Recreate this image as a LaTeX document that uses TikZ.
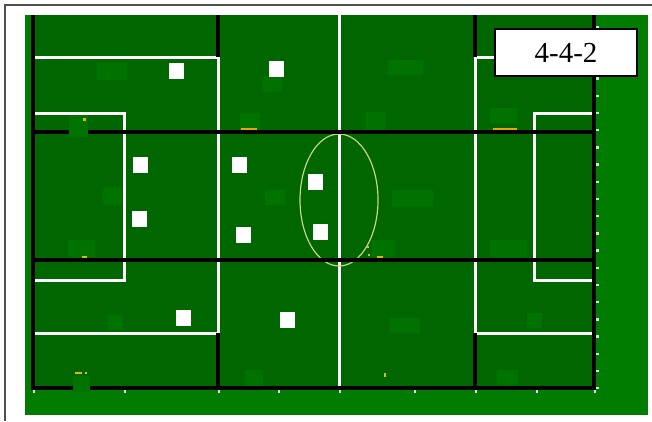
\documentclass[tikz,border=0pt]{standalone}
\usepackage{fontspec}
\setmainfont{Liberation Serif}
\begin{document}
\begin{tikzpicture}[x=1pt,y=-1pt,
  blackline/.style={black,line width=3.3pt},
  whiteline/.style={white,line width=3pt},
  patch/.style={fill=patchgreen},
  player/.style={fill=white,draw=none,minimum width=15pt,minimum height=16pt,inner sep=0pt},
  tickmark/.style={fill=tickcol},
  yellowmark/.style={fill=markyellow},
  labelbox/.style={draw=black,line width=1.5pt,fill=white,minimum width=142pt,minimum height=47pt,inner sep=0pt,font=\fontsize{29}{30}\selectfont}
]
\definecolor{outergreen}{RGB}{0,125,0}
\definecolor{pitchgreen}{RGB}{0,102,0}
\definecolor{patchgreen}{RGB}{0,114,0}
\definecolor{framegray}{RGB}{80,80,80}
\definecolor{ellipsecol}{RGB}{200,210,140}
\definecolor{markyellow}{RGB}{215,190,0}
\definecolor{tickcol}{RGB}{215,220,235}
\useasboundingbox (0,0) rectangle (652,421);
\fill[white] (0,0) rectangle (652,421);
% outer frame
\draw[framegray,line width=1.5pt] (5,421) -- (5,5) -- (652,5);
% green areas
\fill[outergreen] (25,15) rectangle (648,415);
\fill[pitchgreen] (33,15) rectangle (594,388);
% lighter patches
\foreach \xa/\ya/\xb/\yb in {97/63/127/80, 103/187/122/205, 68/240/95/257, 108/315/123/330,
  263/76/282/92, 240/113/260/130, 388/60/423/75, 365/112/385/130, 392/190/433/207,
  490/240/527/257, 372/240/395/257, 527/313/542/328, 497/370/518/385, 245/370/263/386,
  390/318/420/333, 265/190/285/205, 490/108/517/123}
  \fill[patch] (\xa,\ya) rectangle (\xb,\yb);
% white markings
\draw[whiteline] (33,57) -- (218,57) -- (218,333) -- (33,333);
\draw[whiteline] (33,113) -- (124,113) -- (124,280) -- (33,280);
\draw[whiteline] (594,57) -- (475,57) -- (475,333) -- (594,333);
\draw[whiteline] (594,113) -- (534,113) -- (534,280) -- (594,280);
\draw[whiteline] (339,15) -- (339,388);
\draw[ellipsecol,line width=1.2pt] (339,200) ellipse [x radius=39, y radius=66];
% black grid lines
\draw[blackline] (33,15) -- (33,388) -- (594,388) -- (594,15);
\draw[blackline] (33,132) -- (594,132);
\draw[blackline] (33,260) -- (594,260);
\draw[blackline] (218,15) -- (218,57);
\draw[blackline] (218,333) -- (218,388);
\draw[blackline] (475,15) -- (475,57);
\draw[blackline] (475,333) -- (475,388);
% patches over lines
\fill[patch] (69,115) rectangle (88,137);
\fill[patch] (73,376) rectangle (90,392);
% yellow marks
\fill[yellowmark] (83,118) rectangle (86,121);
\fill[yellowmark] (75,372) rectangle (82,374);
\fill[yellowmark] (85,372) rectangle (87,374);
\fill[markyellow!70!orange] (241,128) rectangle (257,130);
\fill[markyellow!70!orange] (493,128) rectangle (517,130);
\fill[yellowmark] (367,246) rectangle (369,248);
\fill[yellowmark] (368,254) rectangle (370,256);
\fill[yellowmark] (377,256) rectangle (383,258);
\fill[yellowmark] (82,256) rectangle (87,258);
\fill[yellowmark] (384,373) rectangle (386,377);
% ticks
\foreach \tx in {34,125,219,279,340,415,476,537,595}
  \fill[tickmark] (\tx-1,389.5) rectangle (\tx+1,392.5);
\foreach \k in {0,...,21}
  \fill[tickmark] (596,27+17.2*\k-1.2) rectangle (598.5,27+17.2*\k+1.2);
% players
\node[player] (p1) at (176,71) {};
\node[player] (p2) at (276,69) {};
\node[player] (p3) at (140,164.5) {};
\node[player] (p4) at (239.5,164.5) {};
\node[player] (p5) at (315,182) {};
\node[player] (p6) at (139,218.5) {};
\node[player] (p7) at (243,235) {};
\node[player] (p8) at (320,232) {};
\node[player] (p9) at (183,318) {};
\node[player] (p10) at (287,320) {};
% formation label
\node[labelbox] (formation) at (566,52.5) {\raisebox{-4pt}{4-4-2}};
\end{tikzpicture}
\end{document}
